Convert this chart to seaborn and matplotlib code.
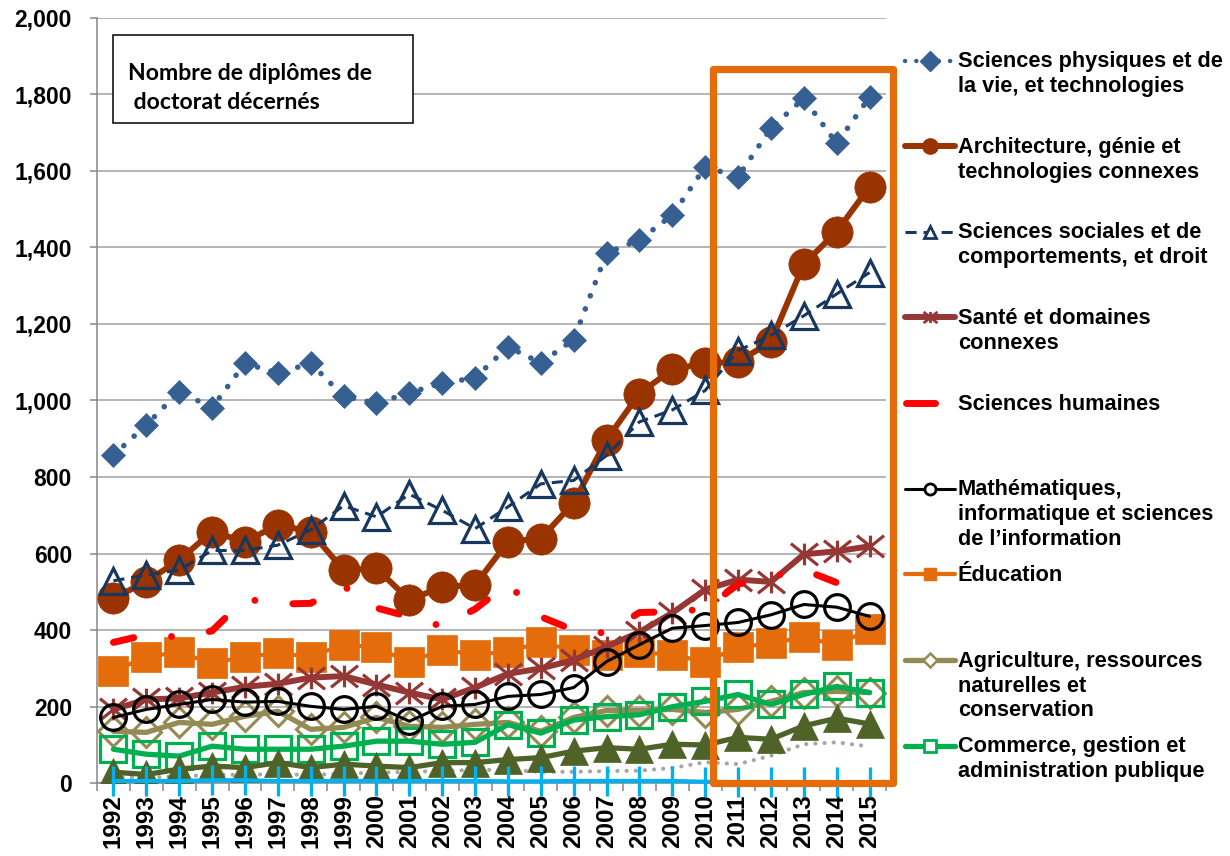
import matplotlib
matplotlib.use("Agg")
import matplotlib.pyplot as plt
import seaborn as sns
from matplotlib.path import Path
from matplotlib.lines import Line2D
from matplotlib.patches import Rectangle

# ---- data -------------------------------------------------------------
years = [1992, 1993, 1994, 1995, 1996, 1997, 1998, 1999, 2000, 2001, 2002, 2003,
         2004, 2005, 2006, 2007, 2008, 2009, 2010, 2011, 2012, 2013, 2014, 2015]
year_labels = [str(y) for y in years]
y_ticks = [0, 200, 400, 600, 800, 1000, 1200, 1400, 1600, 1800, 2000]
y_tick_labels = ["0", "200", "400", "600", "800", "1,000", "1,200", "1,400",
                 "1,600", "1,800", "2,000"]

sciences_physiques = [857, 936, 1023, 981, 1097, 1071, 1097, 1011, 992, 1020, 1045, 1059,
                      1140, 1098, 1159, 1385, 1419, 1484, 1610, 1584, 1711, 1789, 1671, 1792]
architecture = [483, 527, 583, 657, 631, 675, 657, 557, 561, 479, 513, 518,
                631, 639, 733, 897, 1018, 1081, 1097, 1101, 1153, 1356, 1441, 1558]
sciences_sociales = [529, 544, 557, 608, 608, 622, 662, 725, 696, 755, 713, 665,
                     722, 782, 791, 856, 944, 975, 1026, 1130, 1170, 1221, 1278, 1334]
sante = [193, 219, 222, 237, 252, 260, 276, 280, 258, 237, 219, 250,
         286, 300, 322, 357, 395, 445, 506, 532, 526, 598, 606, 619]
sciences_humaines = [368, 388, 382, 398, 482, 468, 470, 515, 458, 435, 410, 455,
                     521, 435, 400, 392, 446, 448, 455, 520, 540, 558, 524, 510]
mathematiques = [172, 193, 206, 219, 212, 214, 201, 193, 201, 162, 201, 206,
                 227, 232, 250, 318, 362, 405, 412, 420, 440, 467, 460, 436]
education = [292, 331, 342, 313, 331, 339, 331, 362, 355, 316, 349, 336,
             344, 368, 347, 334, 342, 336, 317, 355, 366, 381, 362, 402]
agriculture = [136, 133, 159, 154, 175, 188, 141, 146, 172, 149, 146, 154,
               159, 136, 172, 190, 190, 193, 185, 193, 214, 237, 240, 237]
commerce = [89, 76, 71, 97, 89, 89, 89, 97, 110, 110, 102, 107,
            153, 131, 165, 174, 179, 200, 214, 232, 206, 232, 253, 237]
autres_olive = [29, 23, 37, 45, 41, 54, 41, 50, 45, 41, 54, 54,
                62, 67, 84, 93, 89, 102, 100, 120, 115, 150, 170, 155]
autres_gris = [15, 15, 18, 22, 22, 24, 22, 25, 28, 30, 32, 35,
               35, 30, 30, 32, 33, 40, 55, 50, 72, 102, 107, 96]
autres_bleu = [6, 6, 6, 8, 8, 6, 6, 6, 6, 6, 6, 6,
               5, 5, 6, 6, 6, 6, 4, 3, 3, 3, 3, 3]

legend_labels = [
    ["Sciences physiques et de", "la vie, et technologies"],
    ["Architecture, génie et", "technologies connexes"],
    ["Sciences sociales et de", "comportements, et droit"],
    ["Santé et domaines", "connexes"],
    ["Sciences humaines"],
    ["Mathématiques,", "informatique et sciences", "de l’information"],
    ["Éducation"],
    ["Agriculture, ressources", "naturelles et", "conservation"],
    ["Commerce, gestion et", "administration publique"],
]
title_lines = ["Nombre de diplômes de", " doctorat décernés"]

# ---- style ------------------------------------------------------------
sns.set_theme(style="white")
plt.rcParams["font.family"] = ["Liberation Sans", "DejaVu Sans"]
plt.rcParams["font.weight"] = "bold"
plt.rcParams["lines.scale_dashes"] = False

W, H = 1230, 856
fig = plt.figure(figsize=(W / 100, H / 100), dpi=100)
ax_left, ax_right, ax_top, ax_bottom = 97, 886, 17.5, 783.3
ax = fig.add_axes([ax_left / W, 1 - ax_bottom / H,
                   (ax_right - ax_left) / W, (ax_bottom - ax_top) / H])

# asterisk marker: vertical bar plus a flattened X
star = Path([(0, -0.8), (0, 0.8), (-1, -0.8), (1, 0.8), (-1, 0.8), (1, -0.8)],
            [Path.MOVETO, Path.LINETO] * 3)

C_PHYS = "#366092"
C_ARCH = "#993300"
C_SOC = "#17375E"
C_SANTE = "#953735"
C_HUM = "#FF0000"
C_MATH = "#000000"
C_EDU = "#E46C0A"
C_AGRI = "#948A54"
C_COM = "#00B050"
C_OLIVE = "#4F6228"
C_GRIS = "#A6A6A6"
C_BLEU = "#00B0F0"


def draw(values, z, **kw):
    sns.lineplot(x=years, y=values, ax=ax, estimator=None, sort=False,
                 legend=False, zorder=z, **kw)


draw(autres_gris, 2, color=C_GRIS, lw=3, linestyle=(0, (0.1, 6.5)),
     dash_capstyle="round")
draw(agriculture, 3, color=C_AGRI, lw=3.8, marker="D", markersize=15.5,
     markerfacecolor="none", markeredgecolor=C_AGRI, markeredgewidth=2.2)
draw(commerce, 4, color=C_COM, lw=3.8, marker="s", markersize=18.5,
     markerfacecolor="none", markeredgecolor=C_COM, markeredgewidth=2.3)
draw(autres_olive, 5, color=C_OLIVE, lw=3.8, marker="^", markersize=20,
     markerfacecolor=C_OLIVE, markeredgecolor=C_OLIVE, markeredgewidth=0.5)
draw(autres_bleu, 6, color=C_BLEU, lw=3, marker="|", markersize=22,
     markeredgecolor=C_BLEU, markeredgewidth=2.4, clip_on=False)
draw(education, 7, color=C_EDU, lw=3, marker="s", markersize=21,
     markerfacecolor=C_EDU, markeredgecolor=C_EDU, markeredgewidth=0.5)
draw(sante, 8, color=C_SANTE, lw=4.3, marker=star, markersize=19.5,
     markerfacecolor="none", markeredgecolor=C_SANTE, markeredgewidth=2.3)
draw(mathematiques, 9, color=C_MATH, lw=2.2, marker="o", markersize=18.5,
     markerfacecolor="none", markeredgecolor=C_MATH, markeredgewidth=2.3)
draw(sciences_humaines, 10, color=C_HUM, lw=5, linestyle=(0, (15, 27.5, 0.01, 27.5)),
     dash_capstyle="round")
draw(architecture, 11, color=C_ARCH, lw=4.3, marker="o", markersize=22.5,
     markerfacecolor=C_ARCH, markeredgecolor=C_ARCH, markeredgewidth=0.5)
draw(sciences_sociales, 12, color=C_SOC, lw=2.2, linestyle=(0, (8, 5)),
     marker="^", markersize=19, markerfacecolor="none",
     markeredgecolor=C_SOC, markeredgewidth=2.3)
draw(sciences_physiques, 13, color=C_PHYS, lw=4, linestyle=(0, (0.1, 10)),
     dash_capstyle="round", marker="D", markersize=12,
     markerfacecolor=C_PHYS, markeredgecolor=C_PHYS, markeredgewidth=0.5)

# highlighted recent period
ax.add_patch(Rectangle((2010.23, 0), 2015.72 - 2010.23, 1865, fill=False,
                       edgecolor=C_EDU, lw=5.2, joinstyle="round",
                       clip_on=False, zorder=20))

# ---- axes -------------------------------------------------------------
ax.set_xlim(1991.5, 2015.5)
ax.set_ylim(0, 2000)
ax.set_xticks(years)
ax.set_xticklabels(year_labels)
ax.set_xticks([y - 0.5 for y in years] + [years[-1] + 0.5], minor=True)
ax.set_yticks(y_ticks)
ax.set_yticklabels(y_tick_labels)
ax.set_xlabel("")
ax.set_ylabel("")

ax.tick_params(axis="x", which="major", length=0, labelsize=17.5,
               labelrotation=90, pad=8, labelcolor="black")
ax.tick_params(axis="x", which="minor", length=6, width=1.1, color="#868686",
               direction="out", bottom=True)
ax.tick_params(axis="y", which="major", length=5, width=1.1, color="#868686",
               direction="out", left=True, labelsize=16.5, pad=13,
               labelcolor="black")

ax.yaxis.grid(True, color="#A0A0A0", lw=1.1)
ax.xaxis.grid(False)
ax.set_axisbelow(True)
for side in ("top", "right"):
    ax.spines[side].set_visible(False)
for side in ("left", "bottom"):
    ax.spines[side].set_color("#868686")
    ax.spines[side].set_linewidth(1.1)
    ax.spines[side].set_zorder(1)

# ---- title box --------------------------------------------------------
fig.add_artist(Rectangle((113 / W, 1 - 123 / H), 300 / W, 88 / H,
                         transform=fig.transFigure, facecolor="white",
                         edgecolor="black", lw=1.1, zorder=3))
for j, (t, x0, yb) in enumerate(zip(title_lines, (128, 128), (80, 109))):
    fig.text(x0 / W, 1 - yb / H, t, family=["Lato", "DejaVu Sans"],
             fontsize=16.6, fontweight="bold", va="baseline", ha="left",
             color="black", zorder=4)

# ---- legend -----------------------------------------------------------
legend_styles = [
    dict(color=C_PHYS, lw=3.2, linestyle=(0, (0.1, 8)), dash_capstyle="round",
         marker="D", ms=10, mfc=C_PHYS, mec=C_PHYS),
    dict(color=C_ARCH, lw=4.3, solid_capstyle="round", marker="o", ms=11,
         mfc=C_ARCH, mec=C_ARCH),
    dict(color=C_SOC, lw=2.2, linestyle=(0, (8, 5)), marker="^", ms=9,
         mfc="white", mec=C_SOC, mew=2),
    dict(color=C_SANTE, lw=4.3, solid_capstyle="round", marker=star, ms=10,
         mfc="none", mec=C_SANTE, mew=2),
    dict(color=C_HUM, lw=5, solid_capstyle="round"),
    dict(color=C_MATH, lw=2.2, marker="o", ms=8, mfc="white", mec=C_MATH, mew=2),
    dict(color=C_EDU, lw=3, solid_capstyle="round", marker="s", ms=9,
         mfc=C_EDU, mec=C_EDU),
    dict(color=C_AGRI, lw=3.8, solid_capstyle="round", marker="D", ms=7,
         mfc="white", mec=C_AGRI, mew=1.8),
    dict(color=C_COM, lw=3.8, solid_capstyle="round", marker="s", ms=9,
         mfc="white", mec=C_COM, mew=2),
]
for i, (lines, st) in enumerate(zip(legend_labels, legend_styles)):
    yh = 60.7 + i * 85.6
    x0, x1 = (905, 955) if i != 4 else (906, 935)
    st = dict(st)
    mk = {k: st.pop(k) for k in ("marker", "ms", "mfc", "mec", "mew") if k in st}
    fig.add_artist(Line2D([x0 / W, x1 / W], [1 - yh / H, 1 - yh / H],
                          transform=fig.transFigure, **st))
    if mk:
        fig.add_artist(Line2D([930 / W], [1 - yh / H], transform=fig.transFigure,
                              linestyle="none", **mk))
    for j, t in enumerate(lines):
        fig.text(958 / W, 1 - (yh + 6.6 + 25 * j) / H, t, fontsize=15.7,
                 fontweight="bold", va="baseline", ha="left", color="black")

fig.savefig("out.png", dpi=100, facecolor="white")
